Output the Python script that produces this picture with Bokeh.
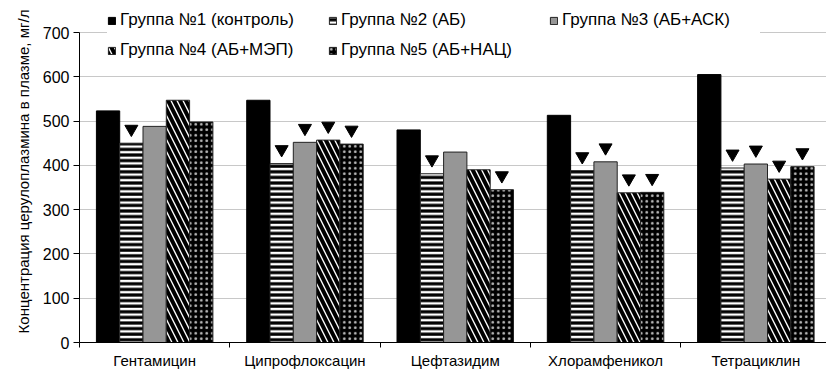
from bokeh.plotting import figure
from bokeh.models import Range1d, FixedTicker, Legend, LegendItem, ColumnDataSource
from bokeh.embed import file_html
from bokeh.resources import INLINE

categories = ["Гентамицин", "Ципрофлоксацин", "Цефтазидим", "Хлорамфеникол", "Тетрациклин"]
group_names = ["Группа №1 (контроль)", "Группа №2 (АБ)", "Группа №3 (АБ+АСК)",
               "Группа №4 (АБ+МЭП)", "Группа №5 (АБ+НАЦ)"]
g1 = [523, 547, 480, 513, 605]
g2 = [450, 404, 381, 388, 394]
g3 = [488, 452, 430, 408, 403]
g4 = [547, 457, 390, 338, 369]
g5 = [498, 448, 345, 339, 397]
# significance markers (1 = triangle shown above bar)
sig2 = [1, 1, 1, 1, 1]
sig3 = [0, 1, 0, 1, 1]
sig4 = [0, 1, 0, 1, 1]
sig5 = [0, 1, 1, 1, 1]
y_ticks = [0, 100, 200, 300, 400, 500, 600, 700]
y_title = "Концентрация церулоплазмина в плазме, мг/л"

series = [g1, g2, g3, g4, g5]
sigs = [None, sig2, sig3, sig4, sig5]
styles = [
    dict(fill_color="black", line_color="black"),
    dict(fill_color="white", line_color="#222222", hatch_pattern="-", hatch_color="black",
         hatch_scale=5.6, hatch_weight=3.2),
    dict(fill_color="#969696", line_color="#222222"),
    dict(fill_color="white", line_color="#222222", hatch_pattern="\\", hatch_color="black",
         hatch_scale=12, hatch_weight=4.0),
    dict(fill_color="black", line_color="#222222", hatch_pattern=".", hatch_color="#bdbdbd",
         hatch_scale=5.5, hatch_weight=1),
]

FONT = "Liberation Sans"

# frame spans the full top so the legend (drawn inside the frame) is not clipped;
# the axis line itself is bounded to 0..700
y_max_view = 700 * 342 / 310

p = figure(frame_width=747, frame_height=342,
           x_range=Range1d(0, 4.97), y_range=Range1d(0, y_max_view),
           output_backend="svg", toolbar_location=None,
           min_border_left=79, min_border_right=0, min_border_top=0, min_border_bottom=29)
p.outline_line_color = None
p.background_fill_color = "white"
p.border_fill_color = "white"

bw = 0.155
items = []
for j, (vals, st) in enumerate(zip(series, styles)):
    xs = [i + 0.5 + (j - 2) * bw for i in range(len(categories))]
    src = ColumnDataSource(dict(x=xs, top=vals))
    r = p.vbar(x="x", top="top", width=bw, bottom=0, source=src, line_width=1, **st)
    items.append(LegendItem(label=group_names[j], renderers=[r]))
    if sigs[j] is not None:
        mx = [x for x, s in zip(xs, sigs[j]) if s]
        my = [v + 32 for v, s in zip(vals, sigs[j]) if s]
        p.scatter(mx, my, marker="inverted_triangle", size=13, fill_color="black",
                  line_color="black")

# axes
p.xaxis.ticker = FixedTicker(ticks=[i + 0.5 for i in range(len(categories))],
                             minor_ticks=[0, 1, 2, 3, 4])
p.xaxis.major_label_overrides = {i + 0.5: c for i, c in enumerate(categories)}
p.xaxis.major_tick_out = 0
p.xaxis.major_tick_in = 0
p.xaxis.minor_tick_out = 5
p.xaxis.minor_tick_in = 0
p.xaxis.minor_tick_line_color = "black"
p.xaxis.major_label_standoff = 4
p.xaxis.major_label_text_font = FONT
p.xaxis.major_label_text_font_size = "15px"
p.xaxis.major_label_text_color = "black"
p.xaxis.axis_line_color = "black"

p.yaxis.ticker = FixedTicker(ticks=y_ticks)
p.yaxis.bounds = (0, 700)
p.yaxis.major_tick_out = 6
p.yaxis.major_tick_in = 0
p.yaxis.minor_tick_line_color = None
p.yaxis.major_label_standoff = 4
p.yaxis.major_label_text_font = FONT
p.yaxis.major_label_text_font_size = "16px"
p.yaxis.major_label_text_color = "black"
p.yaxis.axis_line_color = "black"
p.yaxis.major_tick_line_color = "black"
p.yaxis.axis_label = y_title
p.yaxis.axis_label_text_font = FONT
p.yaxis.axis_label_text_font_size = "15px"
p.yaxis.axis_label_text_font_style = "normal"
p.yaxis.axis_label_text_color = "black"
p.yaxis.axis_label_standoff = 8

p.xgrid.grid_line_color = None
p.ygrid.ticker = FixedTicker(ticks=y_ticks[1:])
p.ygrid.grid_line_color = "#c8c8c8"
p.ygrid.grid_line_width = 1

legend = Legend(items=items, orientation="horizontal", ncols=3,
                location=(28, 282), padding=12, margin=0, spacing=10,
                glyph_width=9, glyph_height=9, label_standoff=4,
                label_width=198, label_height=20,
                label_text_font=FONT, label_text_font_size="17px",
                label_text_color="black",
                border_line_color=None, background_fill_color="white",
                background_fill_alpha=1.0)
p.add_layout(legend, "center")

open("out.html", "w").write(file_html(p, INLINE))
